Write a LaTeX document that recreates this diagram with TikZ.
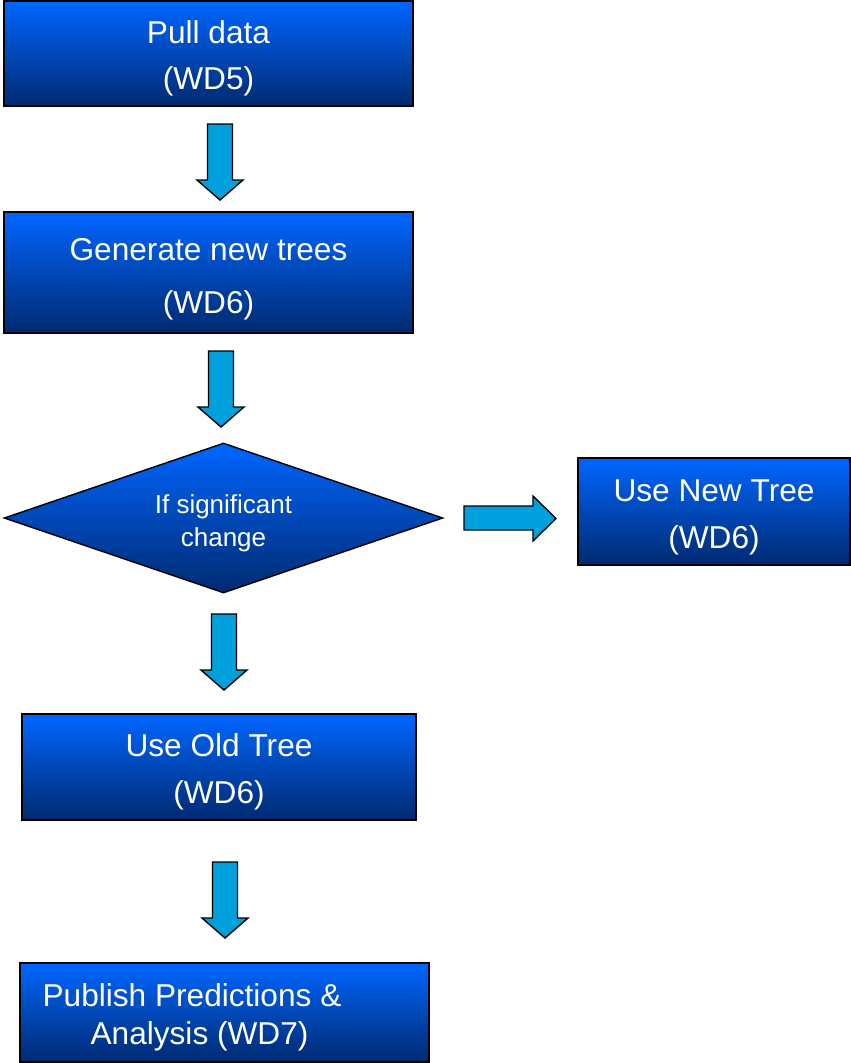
\documentclass[tikz,border=0pt]{standalone}
\usepackage{fontspec}
\setmainfont{Liberation Sans}
\usepackage{tikz}
\usetikzlibrary{shapes.geometric,positioning,calc}

\definecolor{boxtop}{RGB}{0,102,255}
\definecolor{boxbot}{RGB}{0,42,112}
\definecolor{arrowfill}{RGB}{0,160,220}

\begin{document}
\begin{tikzpicture}[x=0.02cm,y=-0.02cm,
  stepbox/.style={draw=black,line width=0.8pt,top color=boxtop,bottom color=boxbot,inner sep=0pt},
  steptext/.style={text=white,align=center,inner sep=0pt},
  decision/.style={stepbox,diamond,shape aspect=2.93,minimum width=8.78cm,minimum height=3cm},
  blockarrow/.style={draw=black,line width=0.8pt,fill=arrowfill,line join=miter}]
\useasboundingbox (0,0) rectangle (851,1063);

\node[stepbox,minimum width=8.18cm,minimum height=2.1cm] (pull) at (208.5,53.5) {};
\node[steptext,font=\fontsize{18}{26.2}\selectfont] (pulltext)
  at ([yshift=-0.1cm]pull.center) {Pull data\\(WD5)};
\node[stepbox,minimum width=8.18cm,minimum height=2.42cm] (gen) at (208.5,272.5) {};
\node[steptext,font=\fontsize{18}{30}\selectfont] (gentext)
  at ([yshift=-0.13cm]gen.center) {Generate new trees\\(WD6)};
\node[decision] (sig) at (223.5,518) {};
\node[steptext,font=\fontsize{14.8}{18.8}\selectfont] (sigtext)
  at ([yshift=-0.1cm]sig.center) {If significant\\change};
\node[stepbox,minimum width=5.44cm,minimum height=2.14cm] (newt) at (714,511.5) {};
\node[steptext,font=\fontsize{18}{26.7}\selectfont] (newttext)
  at ([yshift=-0.12cm]newt.center) {Use New Tree\\(WD6)};
\node[stepbox,minimum width=7.88cm,minimum height=2.12cm] (oldt) at (219,767) {};
\node[steptext,font=\fontsize{18}{26.7}\selectfont] (oldttext)
  at ([yshift=-0.1cm]oldt.center) {Use Old Tree\\(WD6)};
\node[stepbox,minimum width=8.18cm,minimum height=1.98cm] (pub) at (224.5,1012.5) {};
\node[steptext,align=left,font=\fontsize{18}{21.6}\selectfont] (pubtext)
  at ([xshift=-0.65cm,yshift=-0.09cm]pub.center) {Publish Predictions \&\\\hspace*{0.96cm}Analysis (WD7)};

% block arrows between the steps
\foreach \x/\t in {220/124,221/351,224/614,225/862}{
  \draw[blockarrow] (\x-12.5,\t) -- (\x+12.5,\t) -- (\x+12.5,\t+56) -- (\x+23,\t+56)
    -- (\x,\t+76) -- (\x-23,\t+56) -- (\x-12.5,\t+56) -- cycle;
}
\draw[blockarrow] (464,506) -- (533,506) -- (533,496) -- (556,518.5) -- (533,541)
  -- (533,530) -- (464,530) -- cycle;
\end{tikzpicture}
\end{document}
